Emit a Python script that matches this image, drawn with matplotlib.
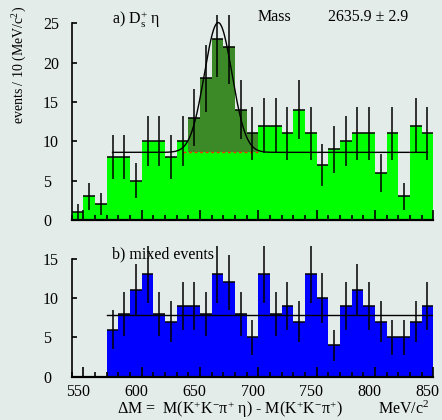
import numpy as np
import matplotlib.pyplot as plt
import matplotlib.transforms as mtransforms
from matplotlib.ticker import MultipleLocator

plt.rcParams['font.family'] = ['Liberation Serif', 'DejaVu Serif']
plt.rcParams['mathtext.fontset'] = 'custom'
plt.rcParams['mathtext.rm'] = 'Liberation Serif'
plt.rcParams['mathtext.it'] = 'Liberation Serif:italic'
plt.rcParams['mathtext.bf'] = 'Liberation Serif:bold'

# delta M bins, 10 MeV wide
bin_edges = np.arange(540, 851, 10)

# a) D_s+ eta candidates
counts_sig = [1, 3, 2, 8, 8, 5, 10, 10, 8, 10,
              13, 18, 23, 22, 14, 11, 12, 12, 11, 14,
              11, 7, 9, 10, 11, 11, 6, 11, 3, 12,
              11]
# b) mixed events
counts_mix = [0, 0, 0, 6, 8, 11, 13, 8, 7, 9,
              9, 8, 13, 12, 8, 5, 13, 8, 9, 7,
              13, 10, 4, 9, 11, 9, 7, 5, 5, 7,
              9]

# fit: flat background + gaussian
fit_bkg = 8.6
fit_amp = 16.5
fit_mean = 665.6
fit_sigma = 11.8
fit_range = (575, 845)
signal_range = (640, 700)
mix_level = 7.8
mix_range = (570, 850)

bg_col = '#e4ecea'
W, H, DPI = 442, 420, 100

fig = plt.figure(figsize=(W / DPI, H / DPI), dpi=DPI, facecolor=bg_col)
ax1 = fig.add_axes([0.1622, 0.4762, 0.8181, 0.4888])
ax2 = fig.add_axes([0.1622, 0.1031, 0.8181, 0.3183])

left = bin_edges[:-1]
centers = left + 5


def draw_hist(ax, counts, color):
    counts = np.asarray(counts, dtype=float)
    ax.bar(left, counts, width=10, align='edge', color=color, linewidth=0, zorder=1)
    nz = counts > 0
    ax.errorbar(centers[nz], counts[nz], xerr=5, yerr=np.sqrt(counts[nz]),
                fmt='none', ecolor='black', elinewidth=1.1, capsize=0, zorder=3)


draw_hist(ax1, counts_sig, '#00ff00')

# signal part above the background level
cs = np.asarray(counts_sig, dtype=float)
sel = (left >= signal_range[0]) & (left < signal_range[1]) & (cs > fit_bkg)
ax1.bar(left[sel], cs[sel] - fit_bkg, bottom=fit_bkg, width=10, align='edge',
        color='#3b8a27', linewidth=0, zorder=2)
ax1.plot([signal_range[0] - 5, signal_range[1]], [fit_bkg, fit_bkg],
         color='#ff2a00', lw=1.0, ls=(0, (2, 2)), zorder=2.5)

xf = np.linspace(fit_range[0], fit_range[1], 600)
yf = fit_bkg + fit_amp * np.exp(-0.5 * ((xf - fit_mean) / fit_sigma) ** 2)
ax1.plot(xf, yf, color='black', lw=1.0, zorder=4)

draw_hist(ax2, counts_mix, '#0000ff')
ax2.plot(mix_range, [mix_level, mix_level], color='black', lw=1.0, zorder=4)

ax1.set_ylim(0, 26.1)
ax2.set_ylim(0, 17)
pad_pt = 28.7 * 72 / DPI
for ax, ytop in ((ax1, 25), (ax2, 15)):
    ax.set_facecolor(bg_col)
    ax.set_xlim(540, 850)
    ax.spines['top'].set_visible(False)
    ax.spines['right'].set_visible(False)
    ax.spines['left'].set_bounds(0, ytop)
    ax.spines['left'].set_linewidth(1.2)
    ax.spines['bottom'].set_linewidth(1.6)
    ax.xaxis.set_major_locator(MultipleLocator(50))
    ax.xaxis.set_minor_locator(MultipleLocator(10))
    ax.set_yticks(np.arange(0, ytop + 1, 5))
    ax.tick_params(axis='x', which='major', direction='in', length=7.2, width=1.2, labelsize=11.5, pad=5)
    ax.tick_params(axis='x', which='minor', direction='in', length=3.6, width=1.2)
    ax.tick_params(axis='y', direction='in', length=3.6, width=1.2, labelsize=11.5, pad=pad_pt)
    for lab in ax.get_yticklabels():
        lab.set_horizontalalignment('left')

ax1.tick_params(axis='x', which='both', labelbottom=False)
shift = mtransforms.ScaledTranslation(-4 / 72, 0, fig.dpi_scale_trans)
for lab in ax2.get_xticklabels():
    lab.set_transform(lab.get_transform() + shift)

fs = 11.5
fig.text(111.7 / W, 1 - 20 / H, r'a) D$_{\mathrm{s}}^{+}$ η', fontsize=fs, va='center')
fig.text(258 / W, 1 - 17 / H, 'Mass', fontsize=fs, va='center')
fig.text(328 / W, 1 - 17 / H, '2635.9 ± 2.9', fontsize=fs, va='center')
fig.text(111.7 / W, 1 - 254 / H, 'b) mixed events', fontsize=fs, va='center')
fig.text(116.7 / W, 1 - 414 / H,
         r'ΔM =  M(K$^{+}$K$^{-}$π$^{+}$ η) - M(K$^{+}$K$^{-}$π$^{+}$)',
         fontsize=fs, va='baseline')
fig.text(378.3 / W, 1 - 414 / H, r'MeV/c$^{2}$', fontsize=fs, va='baseline')
fig.text(20 / W, 1 - 65 / H, r'events / 10 (MeV/c$^{2}$)', fontsize=10,
         rotation=90, ha='center', va='center')

fig.savefig('out.png', dpi=DPI, facecolor=bg_col)
